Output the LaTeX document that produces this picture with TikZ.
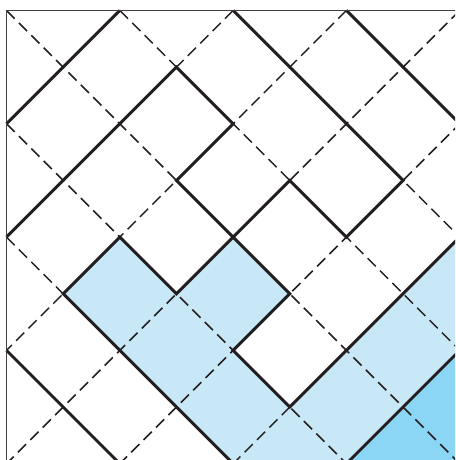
\documentclass[tikz,border=0pt]{standalone}
\usepackage{tikz}

\definecolor{inkline}{HTML}{231F20}
\definecolor{lightfill}{HTML}{C8E8F8}
\definecolor{darkfill}{HTML}{8CD6F5}

\begin{document}
\begin{tikzpicture}[
    y=-1cm,
    grid/.style={
        inkline,
        line width=0.75pt,
        dash pattern=on 5.8pt off 3pt
    },
    wall/.style={
        inkline,
        line width=1.5pt
    },
    frame/.style={
        inkline!85,
        line width=0.8pt
    }
]

% Picture area
\useasboundingbox (-0.115,-0.185) rectangle (7.917,7.935);
\clip (-0.115,-0.185) rectangle (7.917,7.935);

% Shaded regions
\fill[lightfill] (2,4) -- (3,5) -- (4,4) -- (5,5) -- (4,6) -- (5,7) -- (9,3)
    -- (9,9) -- (5,9) -- (1,5) -- cycle;
\fill[darkfill] (5,9) -- (9,5) -- (9,9) -- cycle;

% Dashed diagonals
\foreach \k in {1,...,8}
    \draw[grid] (2*\k,0) -- (0,2*\k);
\foreach \k in {0,...,4}
    \draw[grid] (2*\k,0) -- (2*\k+9,9);
\foreach \k in {1,...,4}
    \draw[grid] (0,2*\k) -- (9,2*\k+9);

% Solid paths
\draw[wall] (2,0) -- (0,2);
\draw[wall] (0,4) -- (3,1) -- (4,2) -- (3,3) -- (4,4) -- (5,3) -- (6,4)
    -- (7,3) -- (4,0);
\draw[wall] (6,0) -- (9,3);
\draw[wall] (5,9) -- (1,5) -- (2,4) -- (3,5) -- (4,4) -- (5,5) -- (4,6)
    -- (5,7) -- (9,3);
\draw[wall] (0,6) -- (3,9);
\draw[wall] (5,9) -- (9,5);

% Frame
\draw[frame] (0,9) -- (0,0) -- (9,0);

\end{tikzpicture}
\end{document}
